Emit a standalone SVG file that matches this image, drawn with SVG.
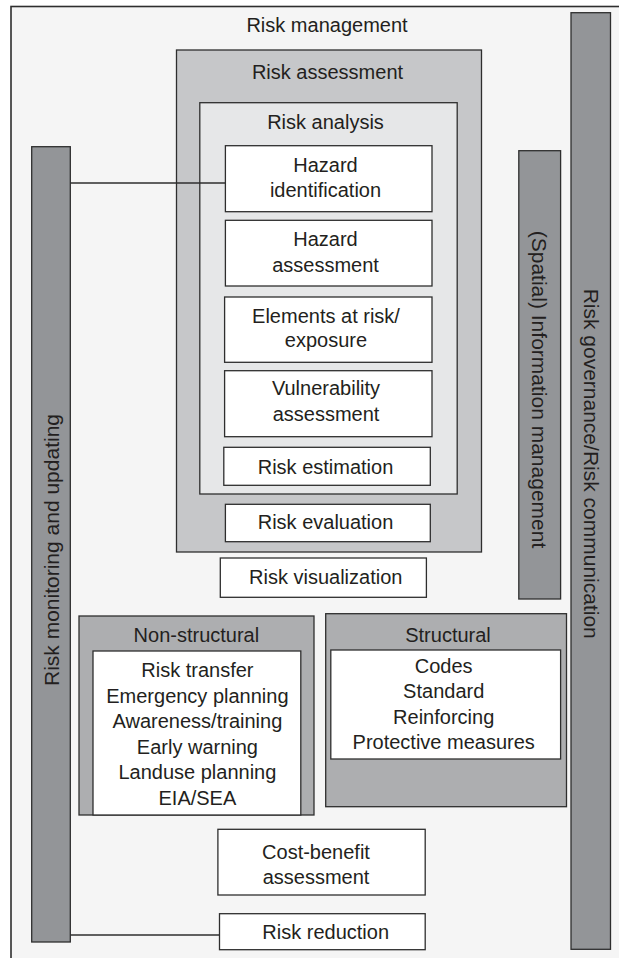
<svg xmlns="http://www.w3.org/2000/svg" width="619" height="958" viewBox="0 0 619 958">
<style>
rect{stroke:#2e2e2e;stroke-width:1.3}
.frame{fill:#f5f5f5;stroke-width:1.6}
.ra{fill:#c6c7c9}
.an{fill:#e6e7e8}
.bar{fill:#939598}
.grp{fill:#adaeb0}
.box{fill:#ffffff}
text{font-family:"Liberation Sans",Arial,sans-serif;font-size:20px;fill:#231f20;text-anchor:middle}
.rot{font-size:21px}
.conn{stroke:#2e2e2e;stroke-width:1.3;fill:none}
</style>
<g id="risk-management">
<rect class="frame" x="11" y="6.5" width="620" height="960"/>
<text x="327" y="31.7">Risk management</text>
</g>
<g id="risk-assessment">
<rect class="ra" x="176.5" y="50" width="305" height="502"/>
<text x="327.5" y="79.3">Risk assessment</text>
</g>
<g id="risk-analysis">
<rect class="an" x="199.8" y="102.7" width="257.4" height="391.3"/>
<text x="325.5" y="129.3">Risk analysis</text>
</g>
<g id="hazard-identification">
<rect class="box" x="225.4" y="145.7" width="206.6" height="66"/>
<text x="325.5" y="171.7">Hazard</text>
<text x="325.5" y="197.3">identification</text>
</g>
<g id="hazard-assessment">
<rect class="box" x="225.4" y="220.3" width="206.6" height="65.7"/>
<text x="325.5" y="246">Hazard</text>
<text x="325.5" y="271.7">assessment</text>
</g>
<g id="elements-at-risk">
<rect class="box" x="224.6" y="297" width="207.4" height="65.3"/>
<text x="326" y="322.7">Elements at risk/</text>
<text x="326" y="347.3">exposure</text>
</g>
<g id="vulnerability-assessment">
<rect class="box" x="224.6" y="370.7" width="207.4" height="66"/>
<text x="326" y="395">Vulnerability</text>
<text x="326" y="420.7">assessment</text>
</g>
<g id="risk-estimation">
<rect class="box" x="223.8" y="447.3" width="206.5" height="38"/>
<text x="325.5" y="474">Risk estimation</text>
</g>
<g id="risk-evaluation">
<rect class="box" x="225.4" y="504.3" width="204.9" height="37.4"/>
<text x="325.5" y="529.3">Risk evaluation</text>
</g>
<g id="risk-visualization">
<rect class="box" x="220.3" y="558" width="206.1" height="39.3"/>
<text x="325.7" y="584">Risk visualization</text>
</g>
<g id="risk-monitoring">
<rect class="bar" x="31.7" y="146.7" width="38.6" height="795.3"/>
<text class="rot" transform="translate(58.5,550) rotate(-90)" x="0" y="0">Risk monitoring and updating</text>
</g>
<g id="spatial-information-management">
<rect class="bar" x="518.8" y="150.7" width="41.8" height="448.3"/>
<text class="rot" transform="translate(532,389.5) rotate(90)" x="0" y="0">(Spatial) Information management</text>
</g>
<g id="risk-governance">
<rect class="bar" x="571" y="12.7" width="39.5" height="936.6"/>
<text class="rot" transform="translate(583.5,463.7) rotate(90)" x="0" y="0">Risk governance/Risk communication</text>
</g>
<g id="non-structural">
<rect class="grp" x="79" y="616" width="235" height="199"/>
<rect class="box" x="93" y="651" width="207.8" height="164"/>
<text x="196.4" y="641.7">Non-structural</text>
<text x="197.4" y="677.3">Risk transfer</text>
<text x="197.4" y="702.7">Emergency planning</text>
<text x="197.4" y="728.3">Awareness/training</text>
<text x="197.4" y="754">Early warning</text>
<text x="197.4" y="779.3">Landuse planning</text>
<text x="197.4" y="805">EIA/SEA</text>
</g>
<g id="structural">
<rect class="grp" x="325.7" y="613.7" width="240.8" height="193"/>
<rect class="box" x="330.8" y="650" width="229.8" height="109"/>
<text x="448" y="641.7">Structural</text>
<text x="443.7" y="672.7">Codes</text>
<text x="443.7" y="698.3">Standard</text>
<text x="443.7" y="724">Reinforcing</text>
<text x="443.7" y="749.3">Protective measures</text>
</g>
<g id="cost-benefit-assessment">
<rect class="box" x="217.9" y="829.3" width="207.3" height="65.7"/>
<text x="316" y="859.3">Cost-benefit</text>
<text x="316" y="884">assessment</text>
</g>
<g id="risk-reduction">
<rect class="box" x="219.5" y="913.7" width="205.7" height="36"/>
<text x="325.7" y="939.3">Risk reduction</text>
</g>
<g id="connectors">
<line class="conn" x1="70.3" y1="183" x2="225.4" y2="183"/>
<line class="conn" x1="70.3" y1="935" x2="219.5" y2="935"/>
</g>
</svg>
